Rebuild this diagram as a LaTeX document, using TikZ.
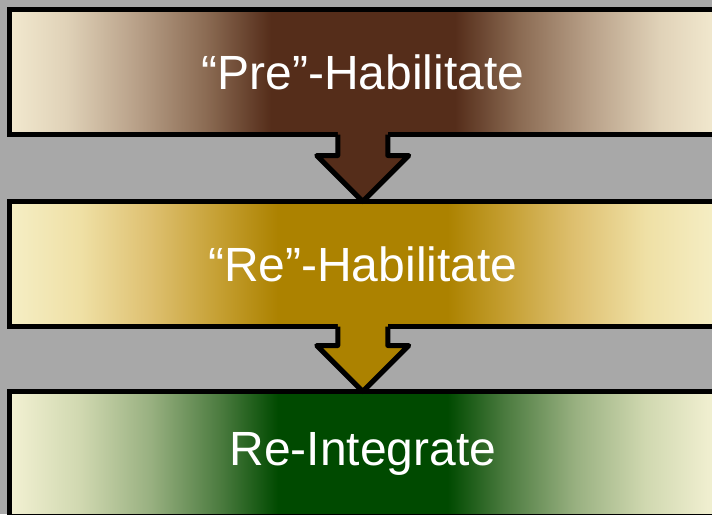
\documentclass[tikz,border=0pt]{standalone}
\usepackage{fontspec}
\setmainfont{Liberation Sans}
\usetikzlibrary{calc}
\definecolor{bggrey}{HTML}{A8A8A8}
\definecolor{brownc}{HTML}{552D1A}
\definecolor{goldc}{HTML}{AC8200}
\definecolor{greenc}{HTML}{004A00}
\pgfdeclarehorizontalshading{brownsh}{100bp}{%
  color(0bp)=(rgb,255:red,242;green,233;blue,207);
  color(25bp)=(rgb,255:red,242;green,233;blue,207);
  color(29bp)=(rgb,255:red,224;green,210;blue,184);
  color(34bp)=(rgb,255:red,184;green,160;blue,136);
  color(39bp)=(rgb,255:red,138;green,106;blue,82);
  color(43.5bp)=(rgb,255:red,85;green,45;blue,26);
  color(56.5bp)=(rgb,255:red,85;green,45;blue,26);
  color(61bp)=(rgb,255:red,138;green,106;blue,82);
  color(66bp)=(rgb,255:red,184;green,160;blue,136);
  color(71bp)=(rgb,255:red,224;green,210;blue,184);
  color(75bp)=(rgb,255:red,242;green,233;blue,207);
  color(100bp)=(rgb,255:red,242;green,233;blue,207)}
\pgfdeclarehorizontalshading{goldsh}{100bp}{%
  color(0bp)=(rgb,255:red,245;green,238;blue,197);
  color(25bp)=(rgb,255:red,245;green,238;blue,197);
  color(30bp)=(rgb,255:red,239;green,224;blue,165);
  color(35bp)=(rgb,255:red,222;green,192;blue,112);
  color(40bp)=(rgb,255:red,196;green,158;blue,48);
  color(44bp)=(rgb,255:red,172;green,130;blue,0);
  color(56bp)=(rgb,255:red,172;green,130;blue,0);
  color(60bp)=(rgb,255:red,196;green,158;blue,48);
  color(65bp)=(rgb,255:red,222;green,192;blue,112);
  color(70bp)=(rgb,255:red,239;green,224;blue,165);
  color(75bp)=(rgb,255:red,245;green,238;blue,197);
  color(100bp)=(rgb,255:red,245;green,238;blue,197)}
\pgfdeclarehorizontalshading{greensh}{100bp}{%
  color(0bp)=(rgb,255:red,243;green,241;blue,211);
  color(25bp)=(rgb,255:red,243;green,241;blue,211);
  color(30bp)=(rgb,255:red,208;green,216;blue,176);
  color(35bp)=(rgb,255:red,152;green,176;blue,128);
  color(40bp)=(rgb,255:red,74;green,122;blue,62);
  color(44bp)=(rgb,255:red,0;green,74;blue,0);
  color(56bp)=(rgb,255:red,0;green,74;blue,0);
  color(60bp)=(rgb,255:red,74;green,122;blue,62);
  color(65bp)=(rgb,255:red,152;green,176;blue,128);
  color(70bp)=(rgb,255:red,208;green,216;blue,176);
  color(75bp)=(rgb,255:red,243;green,241;blue,211);
  color(100bp)=(rgb,255:red,243;green,241;blue,211)}
\tikzset{
  stagebox/.style={draw=black, line width=5pt, rectangle, inner sep=0pt, outer sep=0pt,
    minimum width=706.5pt, minimum height=125pt, text=white,
    font=\fontsize{48}{54}\selectfont},
  arrowline/.style={draw=black, line width=5pt, line join=round}
}
\newcommand\downblock[3]{%
  \fill[#3] ($(#1.south)+(-25,-2.5)$) -- ($(#2.north)+(-25,-46)$) -- ($(#2.north)+(-46,-46)$)
    -- (#2.north) -- ($(#2.north)+(46,-46)$) -- ($(#2.north)+(25,-46)$) -- ($(#1.south)+(25,-2.5)$) -- cycle;
  \draw[arrowline] ($(#1.south)+(-25,0)$) -- ($(#2.north)+(-25,-46)$) -- ($(#2.north)+(-46,-46)$)
    -- (#2.north) -- ($(#2.north)+(46,-46)$) -- ($(#2.north)+(25,-46)$) -- ($(#1.south)+(25,0)$);
}
\begin{document}
\begin{tikzpicture}[x=1pt,y=-1pt]
\useasboundingbox (0,0) rectangle (712,514);
\fill[bggrey] (0,0) rectangle (712,514);
\node[stagebox, shading=brownsh] (b1) at (362.75,72) {“Pre”-Habilitate};
\node[stagebox, shading=goldsh] (b2) at (362.75,264) {“Re”-Habilitate};
\node[stagebox, shading=greensh] (b3) at (362.75,454) {Re-Integrate};
\downblock{b1}{b2}{brownc}
\downblock{b2}{b3}{goldc}
\end{tikzpicture}
\end{document}
